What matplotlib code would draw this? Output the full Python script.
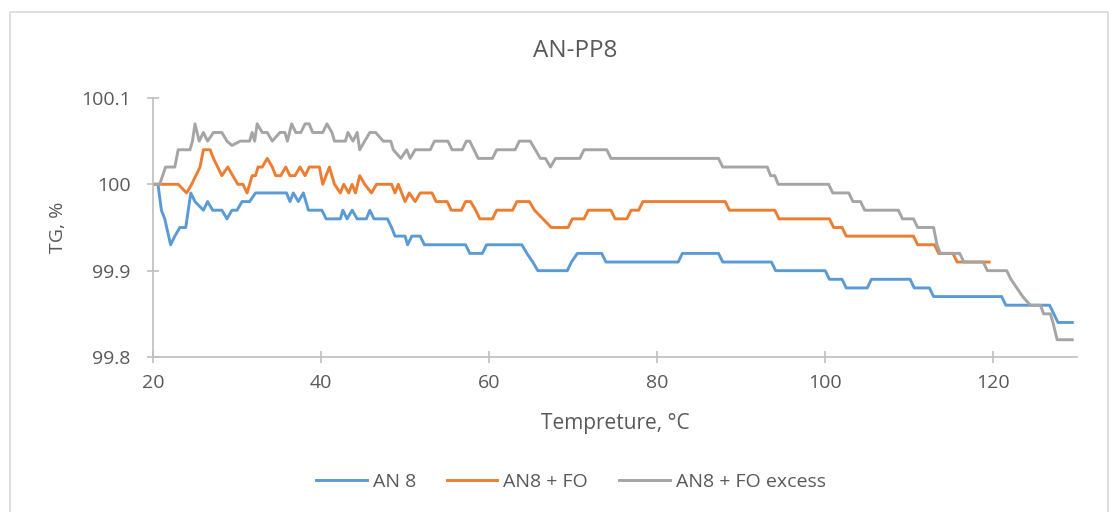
import matplotlib.pyplot as plt
from matplotlib.patches import Rectangle
from matplotlib.ticker import FuncFormatter

plt.rcParams['font.family'] = ['Open Sans', 'DejaVu Sans']

# AN 8
blue_x = [20, 20.6, 21, 21.4, 22.1, 22.6, 23.2, 23.9, 24.5, 25, 26, 26.5, 27.1, 28.2, 28.8,
          29.4, 30, 30.6, 31.5, 32.2, 33.3, 34.7, 35.9, 36.3, 36.7, 37.3, 37.9, 38.5, 40.1,
          40.6, 42.3, 42.6, 43.1, 43.7, 44.3, 45.4, 45.8, 46.3, 47.9, 48.4, 48.8, 50.0, 50.3,
          50.8, 51.8, 52.3, 57.2, 57.7, 59.2, 59.7, 63.9, 64.5, 65.2, 65.8, 69.3, 69.8, 70.5,
          73.4, 73.9, 82.5, 83.0, 87.3, 87.8, 93.6, 94.1, 100.0, 100.5, 102.0, 102.5, 105.0,
          105.5, 110.1, 110.6, 112.4, 112.9, 121.0, 121.5, 126.7, 127.2, 127.7, 129.4]
blue_y = [100.00, 100.00, 99.97, 99.96, 99.93, 99.94, 99.95, 99.95, 99.99, 99.98, 99.97, 99.98,
          99.97, 99.97, 99.96, 99.97, 99.97, 99.98, 99.98, 99.99, 99.99, 99.99, 99.99, 99.98,
          99.99, 99.98, 99.99, 99.97, 99.97, 99.96, 99.96, 99.97, 99.96, 99.97, 99.96, 99.96,
          99.97, 99.96, 99.96, 99.95, 99.94, 99.94, 99.93, 99.94, 99.94, 99.93, 99.93, 99.92,
          99.92, 99.93, 99.93, 99.92, 99.91, 99.90, 99.90, 99.91, 99.92, 99.92, 99.91, 99.91,
          99.92, 99.92, 99.91, 99.91, 99.90, 99.90, 99.89, 99.89, 99.88, 99.88, 99.89, 99.89,
          99.88, 99.88, 99.87, 99.87, 99.86, 99.86, 99.85, 99.84, 99.84]

# AN8 + FO
orange_x = [20, 23.0, 24.0, 24.6, 25.1, 25.6, 26.0, 26.8, 27.2, 27.7, 28.2, 28.9, 29.5, 30.1,
            30.7, 31.2, 31.8, 32.2, 32.5, 33.0, 33.6, 34.2, 34.6, 35.2, 35.8, 36.3, 36.9,
            37.5, 38.1, 38.6, 39.3, 39.8, 40.2, 40.6, 41.0, 41.6, 42.3, 42.7, 43.3, 43.7,
            44.1, 44.6, 45.2, 46.0, 46.6, 48.4, 48.8, 49.2, 50.0, 50.5, 51.2, 51.8, 53.2,
            53.7, 55.0, 55.5, 56.7, 57.2, 57.8, 58.4, 58.9, 60.4, 60.9, 62.8, 63.3, 64.8,
            65.4, 66.4, 67.4, 69.4, 69.9, 71.3, 71.8, 74.5, 75.0, 76.4, 76.9, 77.8, 78.3,
            88.1, 88.6, 94.0, 94.5, 100.5, 101.0, 102.0, 102.5, 110.5, 111.0, 113.0, 113.5,
            115.2, 115.7, 119.5]
orange_y = [100.00, 100.00, 99.99, 100.00, 100.01, 100.02, 100.04, 100.04, 100.03, 100.02,
            100.01, 100.02, 100.01, 100.00, 100.00, 99.99, 100.01, 100.01, 100.02, 100.02,
            100.03, 100.02, 100.01, 100.01, 100.02, 100.01, 100.01, 100.02, 100.01, 100.02,
            100.02, 100.02, 100.00, 100.01, 100.02, 100.00, 99.99, 100.00, 99.99, 100.00,
            99.99, 100.01, 100.00, 99.99, 100.00, 100.00, 99.99, 100.00, 99.98, 99.99, 99.98,
            99.99, 99.99, 99.98, 99.98, 99.97, 99.97, 99.98, 99.98, 99.97, 99.96, 99.96, 99.97,
            99.97, 99.98, 99.98, 99.97, 99.96, 99.95, 99.95, 99.96, 99.96, 99.97, 99.97, 99.96,
            99.96, 99.97, 99.97, 99.98, 99.98, 99.97, 99.97, 99.96, 99.96, 99.95, 99.95, 99.94,
            99.94, 99.93, 99.93, 99.92, 99.92, 99.91, 99.91]

# AN8 + FO excess
gray_x = [20, 20.8, 21.5, 22.6, 23.0, 24.4, 24.7, 25.0, 25.5, 26.0, 26.5, 27.2, 28.2, 28.8,
          29.4, 30.4, 31.5, 31.8, 32.1, 32.4, 33.0, 33.6, 34.2, 35.1, 35.7, 36.0, 36.5, 37.0,
          37.6, 38.1, 38.6, 39.0, 40.2, 40.7, 41.3, 41.6, 42.9, 43.2, 43.8, 44.3, 44.6, 45.2,
          45.8, 46.5, 47.4, 48.3, 48.6, 49.5, 50.2, 50.6, 51.2, 53.0, 53.5, 55.1, 55.6, 56.8,
          57.3, 57.7, 58.2, 58.7, 60.4, 60.9, 63.1, 63.6, 64.9, 65.5, 66.1, 66.7, 67.3, 67.9,
          70.8, 71.3, 74.0, 74.5, 87.3, 87.8, 93.1, 93.5, 94.0, 94.4, 100.4, 100.9, 102.8,
          103.3, 104.2, 104.7, 108.7, 109.2, 110.5, 111.0, 112.9, 113.3, 113.7, 116.0, 116.5,
          118.8, 119.3, 121.6, 122.1, 122.8, 123.5, 124.4, 125.6, 126.0, 126.8, 127.1, 127.6,
          129.4]
gray_y = [100.00, 100.00, 100.02, 100.02, 100.04, 100.04, 100.05, 100.07, 100.05, 100.06,
          100.05, 100.06, 100.06, 100.05, 100.045, 100.05, 100.05, 100.06, 100.05, 100.07,
          100.06, 100.06, 100.05, 100.06, 100.06, 100.05, 100.07, 100.06, 100.06, 100.07,
          100.07, 100.06, 100.06, 100.07, 100.06, 100.05, 100.05, 100.06, 100.05, 100.06,
          100.04, 100.05, 100.06, 100.06, 100.05, 100.05, 100.04, 100.03, 100.04, 100.03,
          100.04, 100.04, 100.05, 100.05, 100.04, 100.04, 100.05, 100.05, 100.04, 100.03,
          100.03, 100.04, 100.04, 100.05, 100.05, 100.04, 100.03, 100.03, 100.02, 100.03,
          100.03, 100.04, 100.04, 100.03, 100.03, 100.02, 100.02, 100.01, 100.01, 100.00,
          100.00, 99.99, 99.99, 99.98, 99.98, 99.97, 99.97, 99.96, 99.96, 99.95, 99.95, 99.93,
          99.92, 99.92, 99.91, 99.91, 99.90, 99.90, 99.89, 99.88, 99.87, 99.86, 99.86, 99.85,
          99.85, 99.84, 99.82, 99.82]

xticks = [20, 40, 60, 80, 100, 120]
yticks = [99.8, 99.9, 100.0, 100.1]

text_color = '#595959'
axis_color = '#BFBFBF'

fig = plt.figure(figsize=(11.15, 5.12), dpi=100)
fig.patches.append(Rectangle((0.009, -0.01), 0.985, 0.987, transform=fig.transFigure,
                             fill=False, edgecolor='#D9D9D9', linewidth=1.2))

ax = fig.add_axes([0.1372, 0.3027, 0.829, 0.506])
l1, = ax.plot(blue_x, blue_y, color='#5B9BD5', linewidth=2.1, label='AN 8')
l2, = ax.plot(orange_x, orange_y, color='#ED7D31', linewidth=2.1, label='AN8 + FO')
l3, = ax.plot(gray_x, gray_y, color='#A5A5A5', linewidth=2.1, label='AN8 + FO excess')

ax.set_xlim(20, 130)
ax.set_ylim(99.8, 100.1)
ax.set_xticks(xticks)
ax.set_yticks(yticks)
ax.yaxis.set_major_formatter(FuncFormatter(lambda v, p: '{:g}'.format(round(v, 2))))

for s in ['top', 'right']:
    ax.spines[s].set_visible(False)
for s in ['left', 'bottom']:
    ax.spines[s].set_color(axis_color)
    ax.spines[s].set_linewidth(1.2)
ax.tick_params(direction='inout', length=8, width=1.2, color=axis_color,
               labelcolor=text_color, labelsize=14)
ax.tick_params(axis='x', pad=8)
ax.tick_params(axis='y', pad=12)

ax.set_xlabel('Tempreture, °C', color=text_color, fontsize=15, labelpad=15)
ax.set_ylabel('TG, %', color=text_color, fontsize=14, labelpad=10)

fig.text(0.516, 0.9, 'AN-PP8', ha='center', va='center', color=text_color, fontsize=17.5)

fig.legend(handles=[l1, l2, l3], loc='center', bbox_to_anchor=(0.512, 0.058), ncol=3,
           frameon=False, fontsize=14, labelcolor=text_color, handlelength=2.6,
           columnspacing=1.6, handletextpad=0.3)

fig.savefig('out.png', dpi=100)
